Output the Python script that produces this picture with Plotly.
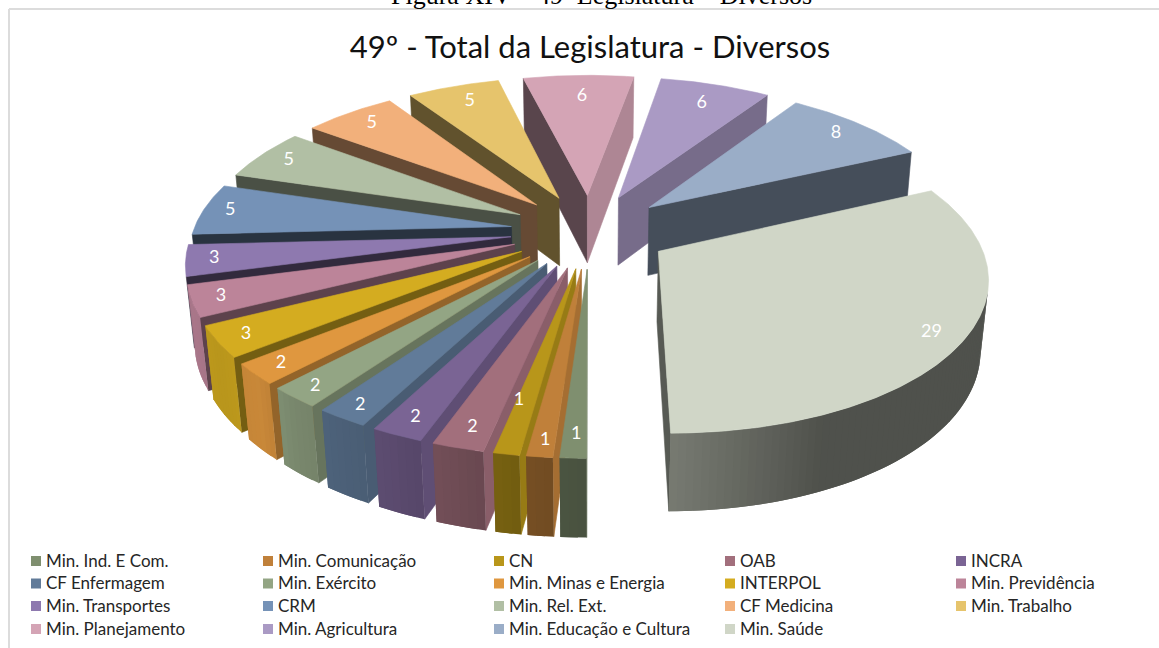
import numpy as np
import plotly.graph_objects as go

# Slices in drawing order, clockwise from the bottom of the pie
names = ["Min. Ind. E Com.", "Min. Comunicação", "CN", "OAB", "INCRA",
         "CF Enfermagem", "Min. Exército", "Min. Minas e Energia", "INTERPOL", "Min. Previdência",
         "Min. Transportes", "CRM", "Min. Rel. Ext.", "CF Medicina", "Min. Trabalho",
         "Min. Planejamento", "Min. Agricultura", "Min. Educação e Cultura", "Min. Saúde"]
values = [1, 1, 1, 2, 2, 2, 2, 2, 3, 3, 3, 5, 5, 5, 5, 6, 6, 8, 29]
colors = ["#7F8F6F", "#C0803A", "#B8961A", "#A26F7C", "#7A6494",
          "#617B99", "#93A584", "#DF973F", "#D4AC20", "#BC8499",
          "#8E79AF", "#7592B7", "#B1BFA4", "#F2B07B", "#E6C46C",
          "#D4A4B5", "#AA9AC4", "#9AADC7", "#D0D6C7"]

page_title = "Figura XIV – 49ª Legislatura – Diversos"
chart_title = "49º - Total da Legislatura - Diversos"

# Camera for the tilted, perspective pie
CX, CY, SCALE = 590.0, 231.0, 318.0
SIN_T, COS_T, DIST = 0.465, 0.885, 5.91
EXPLODE, HEIGHT = 0.25, 0.25

# Brightness of each wall type against its facing angle (degrees clockwise from the bottom)
OUTER_ANGLE = [-180, -24, 0, 6, 16, 24, 32, 40, 47, 57, 69, 81, 180]
OUTER_SHADE = [0.38, 0.38, 0.57, 0.60, 0.68, 0.74, 0.78, 0.82, 0.90, 0.87, 0.90, 0.90, 0.90]
START_ANGLE = [0, 4, 8, 12, 20, 28, 36, 43.5, 51, 63, 75, 87, 107, 127, 146, 166, 360]
START_SHADE = [.86, .86, .82, .85, .78, .75, .70, .66, .55, .50, .35, .35, .42, .42, .42, .42, .42]
END_ANGLE = [0, 190, 214, 245, 360]
END_SHADE = [.82, .82, .70, .45, .42]

# Radial position and small turn of the value label where it differs from the usual one
LABEL_RADIUS = {"Min. Ind. E Com.": 0.89, "CN": 0.75, "Min. Comunicação": 0.925, "OAB": 0.90,
                "INCRA": 0.91, "CF Enfermagem": 0.93, "Min. Exército": 0.93,
                "Min. Minas e Energia": 0.92, "INTERPOL": 0.92, "Min. Previdência": 0.92,
                "Min. Transportes": 0.92, "CRM": 0.92, "Min. Rel. Ext.": 0.90, "CF Medicina": 0.88,
                "Min. Trabalho": 0.85, "Min. Planejamento": 0.80, "Min. Agricultura": 0.82,
                "Min. Saúde": 0.90}
LABEL_TURN = {"CN": 1.4, "Min. Ind. E Com.": 0.1}


def project(x, y, z):
    w = 1 + (y * COS_T - z * SIN_T) / DIST
    return CX + SCALE * x / w, CY - SCALE * (y * SIN_T + z * COS_T) / w


def shade(hex_color, k):
    rgb = [int(hex_color[i:i + 2], 16) for i in (1, 3, 5)]
    return "rgb(%d,%d,%d)" % tuple(round(c * k) for c in rgb)


def polygon(points, color, edge=0.6):
    xs, ys = zip(*points)
    return go.Scatter(x=list(xs) + [xs[0]], y=list(ys) + [ys[0]], mode="lines", fill="toself",
                      fillcolor=color, line=dict(color=color, width=edge),
                      hoverinfo="skip", showlegend=False)


def faces_viewer(points):
    total = 0.0
    for (x0, y0), (x1, y1) in zip(points, points[1:] + points[:1]):
        total += x0 * y1 - x1 * y0
    return total < 0


fig = go.Figure()

total = sum(values)
edges = np.cumsum([0] + values) / total * 360.0
mids = (edges[:-1] + edges[1:]) / 2
offsets_y = -np.cos(np.radians(mids))

for i in np.argsort(-offsets_y):
    a0, a1, mid = edges[i], edges[i + 1], np.radians(mids[i])
    ox, oy = -np.sin(mid) * EXPLODE, -np.cos(mid) * EXPLODE
    color = colors[i]

    def rim(angle, z):
        t = np.radians(angle)
        return project(ox - np.sin(t), oy - np.cos(t), z)

    apex_top, apex_bot = project(ox, oy, 0), project(ox, oy, -HEIGHT)

    wall = [apex_top, rim(a0, 0), rim(a0, -HEIGHT), apex_bot]
    if faces_viewer(wall):
        fig.add_trace(polygon(wall, shade(color, np.interp(a0, START_ANGLE, START_SHADE))))
    wall = [rim(a1, 0), apex_top, apex_bot, rim(a1, -HEIGHT)]
    if faces_viewer(wall):
        fig.add_trace(polygon(wall, shade(color, np.interp(a1, END_ANGLE, END_SHADE))))

    # The rim is a run of narrow facets; each one reaches under its neighbour so no seam shows
    steps = np.linspace(a0, a1, max(2, int((a1 - a0) / 1.2) + 1))
    step = steps[1] - steps[0]
    for s0, s1 in zip(steps[:-1], steps[1:]):
        reach = min(s1 + step, a1)
        facet = [rim(s0, 0), rim(reach, 0), rim(reach, -HEIGHT), rim(s0, -HEIGHT)]
        if faces_viewer(facet):
            facing = (s0 + s1) / 2
            facing = facing - 360 if facing > 180 else facing
            fig.add_trace(polygon(facet, shade(color, np.interp(facing, OUTER_ANGLE, OUTER_SHADE)), 0))

    arc = [rim(a, 0) for a in np.linspace(a0, a1, max(3, int((a1 - a0) * 2)))]
    fig.add_trace(polygon([apex_top] + arc, color))

# Value labels on the top faces
label_x, label_y = [], []
for name, mid_deg in zip(names, mids):
    r = EXPLODE + LABEL_RADIUS.get(name, 0.87)
    turn = np.radians(mid_deg + LABEL_TURN.get(name, 0.0))
    lx, ly = project(-np.sin(turn) * r, -np.cos(turn) * r, 0)
    label_x.append(lx + 2)
    label_y.append(ly)
fig.add_trace(go.Scatter(x=label_x, y=label_y, mode="text", text=[str(v) for v in values],
                         textposition="middle center",
                         textfont=dict(family="Lato", size=18, color="white"),
                         hoverinfo="skip", showlegend=False))

# Legend block: five columns, four rows
COLUMN_X = [31, 263, 494, 725, 956]
ROW_Y = [561, 583.5, 606, 629]
swatch_x = [COLUMN_X[i % 5] + 5 for i in range(len(names))]
swatch_y = [ROW_Y[i // 5] for i in range(len(names))]
fig.add_trace(go.Scatter(x=swatch_x, y=swatch_y, mode="markers",
                         marker=dict(symbol="square", size=10, color=colors),
                         hoverinfo="skip", showlegend=False))
fig.add_trace(go.Scatter(x=[x + 10 for x in swatch_x], y=[y + 1.5 for y in swatch_y],
                         mode="text", text=names, textposition="middle right",
                         textfont=dict(family="Lato", size=17, color="#262626"),
                         hoverinfo="skip", showlegend=False))

fig.update_layout(
    width=1159, height=648, margin=dict(l=0, r=0, t=0, b=0),
    paper_bgcolor="white", plot_bgcolor="white", showlegend=False,
    xaxis=dict(range=[0, 1159], visible=False, fixedrange=True),
    yaxis=dict(range=[648, 0], visible=False, fixedrange=True),
    title=dict(text=chart_title, x=590 / 1159, xanchor="center", y=1 - 47 / 648, yanchor="middle",
               font=dict(family="Lato", size=31, color="#111111")),
    annotations=[dict(text=page_title, x=601 / 1159, y=1 + 5 / 648, xref="paper", yref="paper",
                      showarrow=False, xanchor="center", yanchor="middle",
                      font=dict(family="Liberation Serif", size=26, color="black"))],
    shapes=[
        dict(type="line", x0=9, x1=1159, y0=9, y1=9, xref="x", yref="y",
             line=dict(color="#dcdcdc", width=2), layer="below"),
        dict(type="line", x0=9, x1=9, y0=9, y1=648, xref="x", yref="y",
             line=dict(color="#dcdcdc", width=2), layer="below"),
    ],
)

fig.write_html("out.html", config=dict(displayModeBar=False))
